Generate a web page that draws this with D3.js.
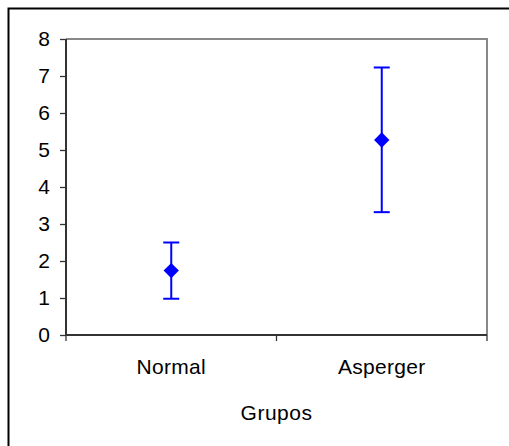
<!DOCTYPE html>
<html><head><meta charset="utf-8">
<script src="https://cdn.jsdelivr.net/npm/d3@7"></script>
<style>body{margin:0;background:#fff}svg{display:block}text{font-family:"Liberation Sans",Arial,sans-serif;fill:#000}</style>
</head><body>
<svg id="c" width="509" height="446"></svg>
<script>
const categories = ["Normal", "Asperger"];
const means = [1.74, 5.27];
const lower = [0.98, 3.32];
const upper = [2.50, 7.23];
const yTicks = [0, 1, 2, 3, 4, 5, 6, 7, 8];
const xTitle = "Grupos";

const svg = d3.select("#c");
const m = {left: 66, top: 39, right: 487, bottom: 335};
svg.append("rect").attr("x", 8.5).attr("y", 8.5).attr("width", 520).attr("height", 460)
  .attr("fill", "none").attr("stroke", "#000").attr("stroke-width", 2);

const x = d3.scaleBand().domain(categories).range([m.left, m.right]);
const y = d3.scaleLinear().domain([0, 8]).range([m.bottom, m.top]);

svg.append("path").attr("d", `M${m.left},${m.top}H${m.right}V${m.bottom}`)
  .attr("fill", "none").attr("stroke", "#888").attr("stroke-width", 2);

const ya = svg.append("g").attr("transform", `translate(${m.left},0)`)
  .call(d3.axisLeft(y).tickValues(yTicks).tickSize(6).tickPadding(10).tickFormat(d3.format("d")));
ya.select(".domain").attr("stroke", "#333").attr("stroke-width", 2).attr("d", `M0,${m.top}V${m.bottom}`);
ya.selectAll(".tick line").attr("stroke", "#333").attr("stroke-width", 1.3);
ya.selectAll(".tick text").attr("font-size", 21).attr("font-family", "Liberation Sans, Arial, sans-serif").attr("fill", "#000");

const xa = svg.append("g").attr("transform", `translate(0,${m.bottom})`);
xa.append("line").attr("x1", m.left).attr("x2", m.right).attr("stroke", "#333").attr("stroke-width", 2);
const bounds = categories.map(c => x(c)).concat([x(categories[categories.length - 1]) + x.bandwidth()]);
xa.selectAll("line.t").data(bounds).join("line").attr("class", "t")
  .attr("x1", d => d).attr("x2", d => d).attr("y1", 0).attr("y2", 6)
  .attr("stroke", "#333").attr("stroke-width", 1.3);
xa.selectAll("text.c").data(categories).join("text").attr("class", "c")
  .attr("x", d => x(d) + x.bandwidth() / 2).attr("y", 39)
  .attr("text-anchor", "middle").attr("font-size", 21).attr("letter-spacing", 0.3).text(d => d);

svg.append("text").attr("x", (m.left + m.right) / 2).attr("y", 420)
  .attr("text-anchor", "middle").attr("font-size", 21).attr("letter-spacing", 0.5).text(xTitle);

const blue = "#0000ff";
const g = svg.append("g");
categories.forEach((c, i) => {
  const cx = x(c) + x.bandwidth() / 2;
  g.append("line").attr("x1", cx).attr("x2", cx).attr("y1", y(lower[i])).attr("y2", y(upper[i]))
    .attr("stroke", blue).attr("stroke-width", 2);
  [lower[i], upper[i]].forEach(v => {
    g.append("line").attr("x1", cx - 8).attr("x2", cx + 8).attr("y1", y(v)).attr("y2", y(v))
      .attr("stroke", blue).attr("stroke-width", 2);
  });
  g.append("path").attr("d", d3.symbol(d3.symbolDiamond2, 150)())
    .attr("transform", `translate(${cx},${y(means[i])})`).attr("fill", blue);
});
</script>
</body></html>
